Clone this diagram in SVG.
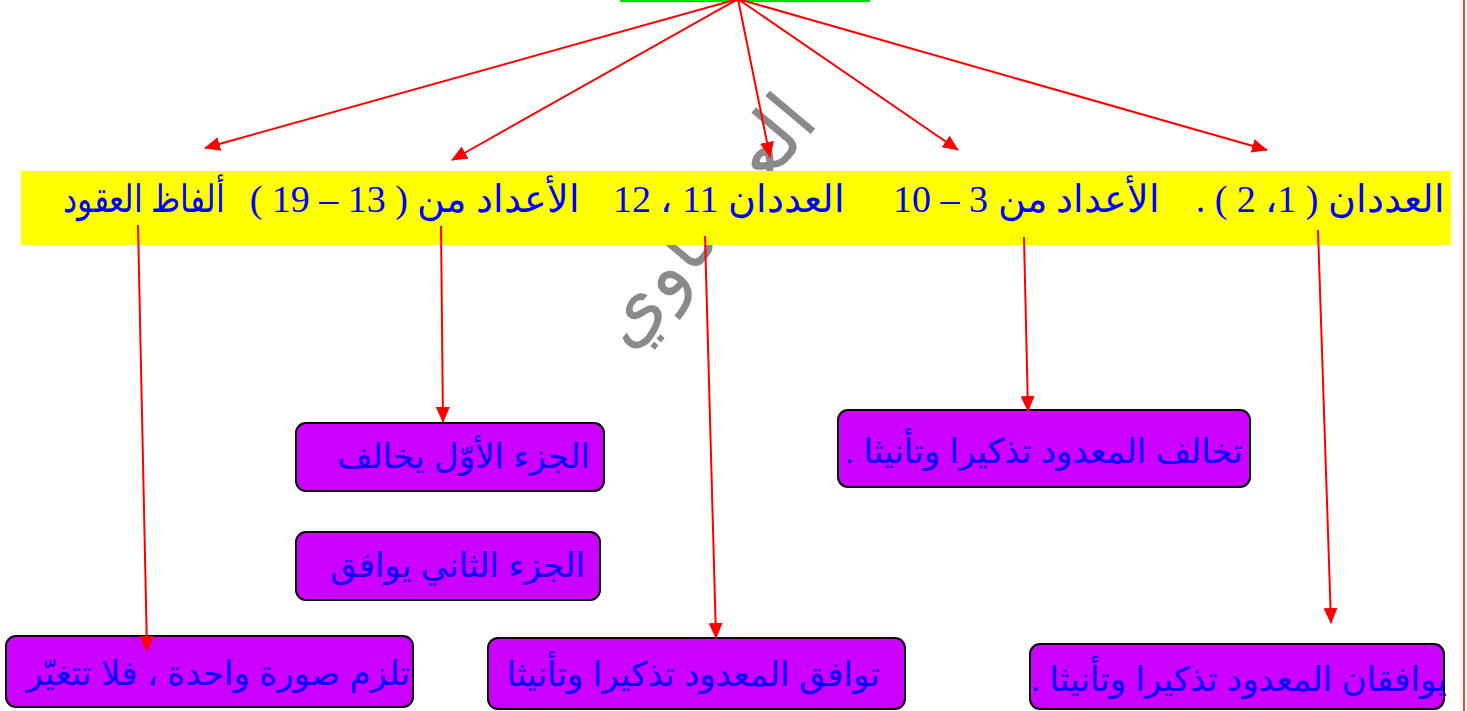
<svg xmlns="http://www.w3.org/2000/svg" width="1467" height="711" viewBox="0 0 1467 711">
<style>
.bar{font-family:"Liberation Serif","DejaVu Serif",serif;font-size:38px;fill:#0000FF}
.box rect{fill:#CC00FF;stroke:#000;stroke-width:2}
.box text{font-family:"Liberation Sans","DejaVu Sans",sans-serif;font-size:34px;fill:#0000FF}
.conn line{stroke:#FF0000;stroke-width:2}
</style>
<defs>
<marker id="ah" markerUnits="userSpaceOnUse" markerWidth="16" markerHeight="14" viewBox="0 0 16 14" refX="15" refY="7" orient="auto">
<path d="M0,0 L16,7 L0,14 Z" fill="#FF0000"/>
</marker>
</defs>
<rect width="1467" height="711" fill="#FFFFFF"/>
<line x1="620" y1="1" x2="870" y2="1" stroke="#00E000" stroke-width="2"/>
<line x1="1464" y1="0" x2="1464" y2="711" stroke="#FF0000" stroke-width="1.5"/>
<text id="watermark" transform="translate(628,352) rotate(-50)" font-family="Liberation Serif,DejaVu Sans,serif" font-size="78" fill="#8A8A8A" direction="rtl" text-anchor="end" x="0" y="0" style="unicode-bidi:embed">العيساوي</text>
<g id="bar">
<rect x="21" y="171" width="1430" height="74" fill="#FFFF00"/>
<text class="bar" x="1445" y="212" direction="rtl" text-anchor="start">العددان ( 1، 2 ) .</text>
<text class="bar" x="1160" y="212" direction="rtl" text-anchor="start">الأعداد من 3 – 10</text>
<text class="bar" x="845" y="212" direction="rtl" text-anchor="start">العددان 11 ، 12</text>
<text class="bar" x="580" y="212" direction="rtl" text-anchor="start">الأعداد من ( 13 – 19 )</text>
<text class="bar" x="225" y="212" direction="rtl" text-anchor="start" textLength="162" lengthAdjust="spacingAndGlyphs">ألفاظ العقود</text>
</g>
<g id="box-a" class="box"><rect x="296" y="423" width="308" height="68" rx="10"/><text x="590" y="468" direction="rtl" text-anchor="start">الجزء الأوّل يخالف</text></g>
<g id="box-b" class="box"><rect x="296" y="532" width="304" height="68" rx="10"/><text x="585" y="577" direction="rtl" text-anchor="start">الجزء الثاني يوافق</text></g>
<g id="box-c" class="box"><rect x="838" y="410" width="412" height="77" rx="10"/><text x="1243" y="463" direction="rtl" text-anchor="start">تخالف المعدود تذكيرا وتأنيثا .</text></g>
<g id="box-d" class="box"><rect x="6" y="636" width="407" height="71" rx="10"/><text x="410" y="685" direction="rtl" text-anchor="start">تلزم صورة واحدة ، فلا تتغيّر</text></g>
<g id="box-e" class="box"><rect x="488" y="638" width="417" height="71" rx="10"/><text x="880" y="686" direction="rtl" text-anchor="start">توافق المعدود تذكيرا وتأنيثا</text></g>
<g id="box-f" class="box"><rect x="1030" y="644" width="414" height="65" rx="10"/><text x="1447" y="691" direction="rtl" text-anchor="start">يوافقان المعدود تذكيرا وتأنيثا .</text></g>
<g id="connectors" class="conn">
<line x1="738" y1="-1" x2="205" y2="148" marker-end="url(#ah)"/>
<line x1="738" y1="-1" x2="452" y2="160" marker-end="url(#ah)"/>
<line x1="738" y1="-1" x2="770" y2="157" marker-end="url(#ah)"/>
<line x1="738" y1="-1" x2="958" y2="150" marker-end="url(#ah)"/>
<line x1="738" y1="-1" x2="1267" y2="150" marker-end="url(#ah)"/>
<line x1="138" y1="225" x2="147" y2="651" marker-end="url(#ah)"/>
<line x1="441" y1="226" x2="443" y2="422" marker-end="url(#ah)"/>
<line x1="705" y1="236" x2="716" y2="638" marker-end="url(#ah)"/>
<line x1="1024" y1="237" x2="1028" y2="411" marker-end="url(#ah)"/>
<line x1="1318" y1="230" x2="1331" y2="623" marker-end="url(#ah)"/>
</g>
</svg>
